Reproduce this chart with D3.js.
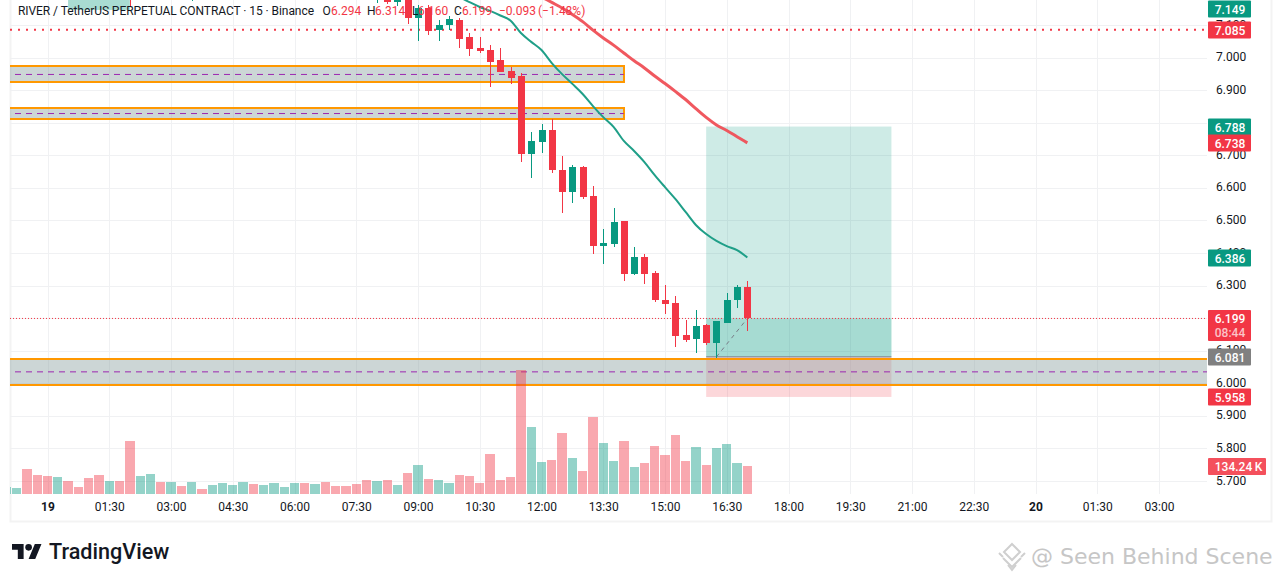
<!DOCTYPE html>
<html lang="en">
<head>
    <meta charset="UTF-8">
    <title>RIVER / TetherUS 15m</title>
    <style>
        html, body { margin: 0; padding: 0; background: #fff; }
        svg { display: block; }
        text { font-family: Roboto, "Noto Sans", Arial, sans-serif; }
        .grid line { stroke: #f0f1f3; stroke-width: 1; shape-rendering: crispEdges; }
        .tick-label { font-size: 12px; fill: #131722; }
        .badge-text { font-size: 12px; fill: #fff; font-weight: 500; text-anchor: middle; }
    </style>
</head>
<body>
    <div id="chart"></div>
    <script src="https://d3js.org/d3.v7.min.js"></script>
    <script>
        // candles: index = number of 15 min bars after 19th 00:00
        const candleBars = [8, 14, 32, 33, 34, 35, 36, 37, 38, 39, 40, 41, 42, 43, 44, 45, 46, 47, 48, 49, 50, 51, 52, 53, 54, 55, 56, 57, 58, 59, 60, 61, 62, 63, 64, 65, 66, 67, 68];
        const opens = [7.25, 7.19, 7.2, 7.21, 7.17, 7.192, 7.120, 7.152, 7.085, 7.101, 7.115, 7.063, 7.029, 7.023, 6.992, 6.959, 6.943, 6.704, 6.741, 6.777, 6.655, 6.587, 6.664, 6.575, 6.421, 6.428, 6.498, 6.335, 6.388, 6.339, 6.256, 6.246, 6.148, 6.136, 6.179, 6.124, 6.185, 6.256, 6.294];
        const highs = [7.30, 7.22, 7.23, 7.23, 7.2, 7.207, 7.161, 7.161, 7.115, 7.127, 7.121, 7.075, 7.063, 7.038, 7.029, 6.971, 6.952, 6.771, 6.796, 6.811, 6.698, 6.670, 6.667, 6.606, 6.474, 6.538, 6.498, 6.418, 6.397, 6.345, 6.302, 6.268, 6.195, 6.225, 6.182, 6.191, 6.277, 6.302, 6.314];
        const lows = [7.158, 7.172, 7.167, 7.164, 7.158, 7.103, 7.052, 7.070, 7.052, 7.084, 7.029, 7.006, 7.014, 6.910, 6.955, 6.919, 6.679, 6.630, 6.707, 6.645, 6.523, 6.553, 6.566, 6.397, 6.366, 6.418, 6.314, 6.332, 6.305, 6.250, 6.213, 6.111, 6.127, 6.093, 6.118, 6.078, 6.185, 6.231, 6.160];
        const closes = [7.2, 7.2, 7.21, 7.17, 7.19, 7.120, 7.152, 7.082, 7.101, 7.117, 7.057, 7.026, 7.020, 6.986, 6.955, 6.937, 6.704, 6.744, 6.777, 6.655, 6.587, 6.664, 6.572, 6.421, 6.431, 6.495, 6.335, 6.388, 6.335, 6.256, 6.243, 6.145, 6.133, 6.176, 6.124, 6.191, 6.256, 6.294, 6.199];

        // volume in thousands, starting with bar -4 (-1 = red, 1 = green)
        const volumeStart = -4;
        const volumes = [34, 29, 120, 91, 86, 81, 62, 34, 77, 91, 62, 62, 254, 86, 96, 58, 58, 38, 58, 24, 43, 53, 43, 58, 48, 43, 53, 34, 53, 53, 48, 58, 38, 38, 48, 67, 62, 67, 43, 101, 139, 72, 67, 53, 91, 86, 53, 192, 67, 81, 594, 321, 153, 163, 292, 173, 110, 369, 244, 158, 254, 129, 149, 230, 187, 283, 158, 225, 139, 221, 240, 149, 134.24];
        const volumeDirs = [1, 1, -1, -1, -1, 1, -1, -1, -1, -1, 1, -1, -1, 1, 1, -1, 1, -1, 1, -1, 1, 1, 1, 1, -1, 1, 1, 1, 1, -1, 1, -1, -1, -1, -1, -1, 1, -1, 1, -1, 1, -1, 1, 1, -1, -1, -1, -1, -1, -1, -1, 1, 1, -1, -1, 1, -1, -1, 1, 1, -1, 1, -1, -1, -1, -1, -1, 1, -1, 1, 1, 1, -1];

        // moving averages
        const emaStart = 40;
        const emaFast = [7.186, 7.170, 7.155, 7.143, 7.129, 7.113, 7.075, 7.048, 7.023, 6.983, 6.949, 6.919, 6.888, 6.851, 6.817, 6.787, 6.744, 6.713, 6.679, 6.639, 6.602, 6.566, 6.526, 6.486, 6.458, 6.437, 6.421, 6.409, 6.386];
        const emaSlowStart = 48;
        const emaSlow = [7.186, 7.169, 7.152, 7.132, 7.110, 7.084, 7.060, 7.038, 7.014, 6.990, 6.968, 6.943, 6.920, 6.896, 6.871, 6.843, 6.816, 6.793, 6.776, 6.757, 6.738];

        // axis (6.800 and 6.200 sit fully behind badges, so grid only)
        const priceGrid = [7.1, 7.0, 6.9, 6.8, 6.7, 6.6, 6.5, 6.4, 6.3, 6.2, 6.1, 6.0, 5.9, 5.8, 5.7];
        const priceTicks = [7.1, 7.0, 6.9, 6.7, 6.6, 6.5, 6.4, 6.3, 6.1, 6.0, 5.9, 5.8, 5.7];
        const timeBars = [0, 6, 12, 18, 24, 30, 36, 42, 48, 54, 60, 66, 72, 78, 84, 90, 96, 102, 108];
        const timeLabels = ["19", "01:30", "03:00", "04:30", "06:00", "07:30", "09:00", "10:30", "12:00", "13:30", "15:00", "16:30", "18:00", "19:30", "21:00", "22:30", "20", "01:30", "03:00"];

        // zones: top, bottom, middle price, right end in bars
        const zoneTops = [6.974, 6.845, 6.075];
        const zoneBottoms = [6.925, 6.811, 5.996];
        const zoneMids = [6.948, 6.828, 6.035];
        const zoneEnds = [56, 56, 113];

        // long position tool
        const posBars = [64, 82];
        const posTarget = 6.788, posEntry = 6.081, posStop = 5.958, lastPrice = 6.199;
        const oldPosBars = [2, 8], oldPosBottom = 7.146;
        const prevClose = 7.085;

        // price badges
        const badgeValues = ["7.149", "7.085", "6.788", "6.738", "6.386", "6.081", "5.958"];
        const badgePrices = [7.149, 7.085, 6.788, 6.738, 6.386, 6.081, 5.958];
        const badgeColors = ["#089981", "#f23645", "#089981", "#f23645", "#089981", "#808080", "#f23645"];

        const width = 1281, height = 582;
        const plot = { left: 10, right: 1207, top: 0, bottom: 494 };
        const red = "#f23645", green = "#089981", orange = "#ff9800";

        const x = d3.scaleLinear().domain([0, 108]).range([47.5, 1159]);
        const y = d3.scaleLinear().domain([7, 5.7]).range([57.5, 481]);
        const yVol = d3.scaleLinear().domain([0, 134.24]).range([494, 466]);

        const svg = d3.select("#chart").append("svg")
            .attr("width", width)
            .attr("height", height);

        svg.append("defs").append("clipPath").attr("id", "plot-clip")
            .append("rect")
            .attr("x", plot.left).attr("y", plot.top)
            .attr("width", plot.right - plot.left).attr("height", plot.bottom - plot.top);

        // frame
        svg.append("path")
            .attr("d", "M10.5,0V521.5H1271.5V0")
            .attr("fill", "none")
            .attr("stroke", "#f3f3f3")
            .attr("stroke-width", 2);

        // grid
        const grid = svg.append("g").attr("class", "grid");
        grid.selectAll(".h").data(priceGrid).enter().append("line")
            .attr("x1", plot.left).attr("x2", plot.right)
            .attr("y1", d => Math.round(y(d)) + 0.5).attr("y2", d => Math.round(y(d)) + 0.5);
        grid.selectAll(".v").data(timeBars).enter().append("line")
            .attr("x1", d => Math.round(x(d)) + 0.5).attr("x2", d => Math.round(x(d)) + 0.5)
            .attr("y1", plot.top).attr("y2", plot.bottom);

        const chart = svg.append("g").attr("clip-path", "url(#plot-clip)");

        // old position box, top left
        chart.append("rect")
            .attr("x", x(oldPosBars[0])).attr("y", 0)
            .attr("width", x(oldPosBars[1]) - x(oldPosBars[0]))
            .attr("height", y(oldPosBottom))
            .attr("fill", "#a9dcd2");

        // position tool
        const px0 = x(posBars[0]), px1 = x(posBars[1]);
        chart.append("rect")
            .attr("x", px0).attr("width", px1 - px0)
            .attr("y", y(posTarget)).attr("height", y(posEntry) - y(posTarget))
            .attr("fill", green).attr("fill-opacity", 0.2);
        chart.append("rect")
            .attr("x", px0).attr("width", px1 - px0)
            .attr("y", y(lastPrice)).attr("height", y(posEntry) - y(lastPrice))
            .attr("fill", green).attr("fill-opacity", 0.2);
        chart.append("rect")
            .attr("x", px0).attr("width", px1 - px0)
            .attr("y", y(posEntry)).attr("height", y(posStop) - y(posEntry))
            .attr("fill", red).attr("fill-opacity", 0.2);

        // zones, left edge runs off the plot so only top, bottom and right strokes show
        const zones = zoneTops.map((t, i) => ({ top: t, bottom: zoneBottoms[i], mid: zoneMids[i], end: x(zoneEnds[i]) }));
        chart.selectAll(".zone").data(zones).enter().append("rect")
            .attr("class", "zone")
            .attr("x", plot.left - 4)
            .attr("y", d => y(d.top))
            .attr("width", d => d.end - plot.left + 4)
            .attr("height", d => y(d.bottom) - y(d.top))
            .attr("fill", "#8fa5a3").attr("fill-opacity", 0.45)
            .attr("stroke", orange).attr("stroke-width", 2)
            .attr("shape-rendering", "crispEdges");
        chart.selectAll(".zone-mid").data(zones).enter().append("line")
            .attr("x1", plot.left + 5).attr("x2", d => d.end)
            .attr("y1", d => y(d.mid)).attr("y2", d => y(d.mid))
            .attr("stroke", "#9c27b0").attr("stroke-width", 1)
            .attr("stroke-dasharray", "6 5");

        // position entry line + path of price
        chart.append("line")
            .attr("x1", px0).attr("x2", px1)
            .attr("y1", y(posEntry)).attr("y2", y(posEntry))
            .attr("stroke", "#787b86").attr("stroke-width", 1);
        chart.append("line")
            .attr("x1", x(65)).attr("y1", y(posEntry))
            .attr("x2", x(68)).attr("y2", y(lastPrice))
            .attr("stroke", "#787b86").attr("stroke-width", 1)
            .attr("stroke-dasharray", "4 4");

        // price lines
        chart.append("line")
            .attr("x1", plot.left).attr("x2", plot.right)
            .attr("y1", y(prevClose)).attr("y2", y(prevClose))
            .attr("stroke", red).attr("stroke-width", 2).attr("stroke-dasharray", "2 6");
        chart.append("line")
            .attr("x1", plot.left).attr("x2", plot.right)
            .attr("y1", y(lastPrice)).attr("y2", y(lastPrice))
            .attr("stroke", red).attr("stroke-width", 1).attr("stroke-dasharray", "1 2");

        // volume
        chart.selectAll(".vol").data(volumes).enter().append("rect")
            .attr("class", "vol")
            .attr("x", (d, i) => x(volumeStart + i) - 4.6)
            .attr("width", 9.3)
            .attr("y", d => yVol(d))
            .attr("height", d => yVol(0) - yVol(d))
            .attr("fill", (d, i) => volumeDirs[i] > 0 ? green : red)
            .attr("fill-opacity", 0.43)
            .attr("shape-rendering", "crispEdges");

        // candles
        const candles = candleBars.map((b, i) => ({ bar: b, o: opens[i], h: highs[i], l: lows[i], c: closes[i] }));
        const candle = chart.selectAll(".candle").data(candles).enter().append("g")
            .attr("class", "candle")
            .attr("shape-rendering", "crispEdges");
        candle.append("line")
            .attr("x1", d => Math.round(x(d.bar)) + 0.5).attr("x2", d => Math.round(x(d.bar)) + 0.5)
            .attr("y1", d => y(d.h)).attr("y2", d => y(d.l))
            .attr("stroke", d => d.c >= d.o ? green : red);
        candle.append("rect")
            .attr("x", d => Math.round(x(d.bar)) - 3)
            .attr("width", 7)
            .attr("y", d => y(Math.max(d.o, d.c)))
            .attr("height", d => Math.max(1, Math.abs(y(d.o) - y(d.c))))
            .attr("fill", d => d.c >= d.o ? green : red);

        // moving averages
        const maLine = start => d3.line()
            .x((d, i) => x(start + i))
            .y(d => y(d))
            .curve(d3.curveMonotoneX);
        chart.append("path")
            .attr("d", maLine(emaStart)(emaFast))
            .attr("fill", "none").attr("stroke", "#1f9f88").attr("stroke-width", 2);
        chart.append("path")
            .attr("d", maLine(emaSlowStart)(emaSlow))
            .attr("fill", "none").attr("stroke", "#ef4f56").attr("stroke-width", 3)
            .attr("stroke-opacity", 0.95);

        // axes
        const yAxis = d3.axisRight(y).tickValues(priceTicks).tickFormat(d3.format(".3f")).tickSize(0).tickPadding(0);
        const yg = svg.append("g").attr("transform", "translate(1216,-0.7)").call(yAxis);
        yg.select(".domain").remove();
        yg.selectAll("text").attr("class", "tick-label").attr("font-size", null).attr("fill", null);

        const xAxis = d3.axisBottom(x).tickValues(timeBars)
            .tickFormat(d => timeLabels[timeBars.indexOf(d)]).tickSize(0).tickPadding(0);
        const xg = svg.append("g").attr("transform", "translate(0,502)").call(xAxis);
        xg.select(".domain").remove();
        xg.selectAll("text").attr("class", "tick-label").attr("font-size", null).attr("fill", null)
            .style("font-weight", d => (d === 0 || d === 96) ? 700 : 400);

        // badges
        const badges = svg.append("g");
        const badgeH = 17;
        badgeValues.forEach((v, i) => {
            const cy = Math.round(y(badgePrices[i]));
            badges.append("rect").attr("x", 1208).attr("y", cy - 8.5).attr("width", 43).attr("height", badgeH)
                .attr("rx", 1).attr("fill", badgeColors[i]);
            badges.append("text").attr("class", "badge-text").attr("x", 1230).attr("y", cy + 4.5).text(v);
        });
        // last price + countdown
        badges.append("rect").attr("x", 1208).attr("y", 310).attr("width", 43).attr("height", 31)
            .attr("rx", 1).attr("fill", red);
        badges.append("text").attr("class", "badge-text").attr("x", 1230).attr("y", 323).text("6.199");
        badges.append("text").attr("class", "badge-text").attr("x", 1230).attr("y", 337)
            .style("fill", "#fbc4c8").text("08:44");
        // volume
        badges.append("rect").attr("x", 1208).attr("y", 458).attr("width", 58).attr("height", 17)
            .attr("rx", 1).attr("fill", "#f4505c");
        badges.append("text").attr("class", "badge-text").attr("x", 1238.5).attr("y", 471).text("134.24\u2009K");

        // legend
        const legend = svg.append("g");
        legend.append("text").attr("x", 18).attr("y", 14.5).attr("fill", "#131722").attr("font-size", 12)
            .attr("textLength", 296).attr("lengthAdjust", "spacing")
            .text("RIVER / TetherUS PERPETUAL CONTRACT · 15 · Binance");
        const legendX = [322.5, 331, 367, 375, 412, 418, 454, 462, 499, 538];
        const legendText = ["O", "6.294", "H", "6.314", "L", "6.160", "C", "6.199", "−0.093", "(−1.48%)"];
        const legendDark = ["O", "H", "L", "C"];
        legendText.forEach((t, i) => {
            legend.append("text").attr("x", legendX[i]).attr("y", 14.5)
                .attr("fill", legendDark.includes(t) ? "#131722" : red)
                .attr("font-size", 12).text(t);
        });

        // TradingView logo
        const logo = svg.append("g").attr("transform", "translate(12,540.7) scale(0.83)").attr("fill", "#131722");
        logo.append("path").attr("d", "M14 22H7V11H0V4h14v18zM28 22h-8l7.5-18h8L28 22z");
        logo.append("circle").attr("cx", 20).attr("cy", 8).attr("r", 4);
        svg.append("text").attr("x", 49).attr("y", 559)
            .attr("font-size", 21.6).attr("font-weight", 500).attr("fill", "#131722")
            .text("TradingView");

        // watermark
        const mark = svg.append("g").attr("transform", "translate(1012,557)")
            .attr("fill", "none").attr("stroke", "#cfcfcf").attr("stroke-width", 2);
        mark.append("path").attr("d", "M0,-13L8,-5L0,3L-8,-5Z");
        mark.append("path").attr("d", "M-9,1L0,10L9,1M-13,-4L-9,0M13,-4L9,0");
        mark.append("path").attr("d", "M-4,8L0,13L4,8");
        svg.append("text").attr("x", 1031).attr("y", 564)
            .attr("font-size", 22).attr("fill", "#c6c6c6")
            .style("font-family", "'DejaVu Sans'")
            .text("@ Seen Behind Scene");
    </script>
</body>
</html>
